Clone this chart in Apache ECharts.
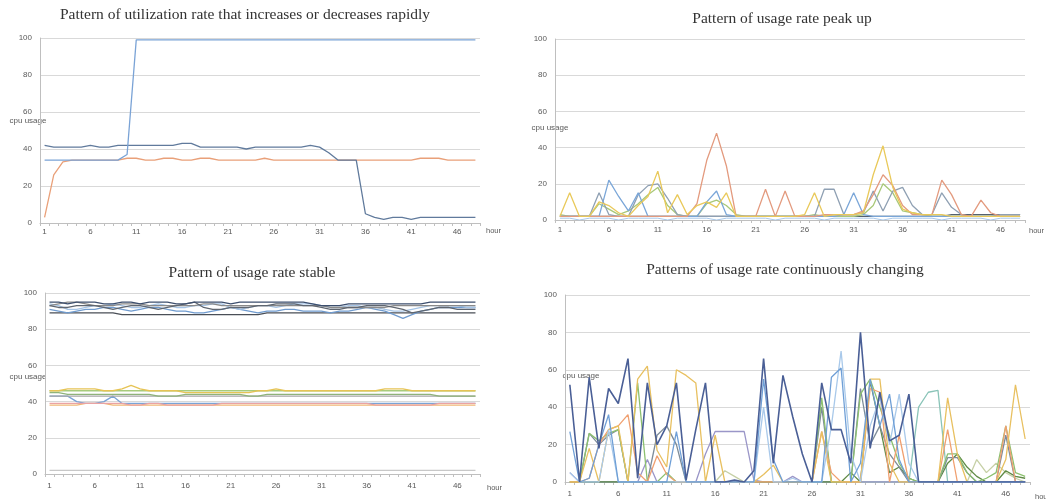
<!DOCTYPE html>
<html>
<head>
<meta charset="utf-8">
<script src="https://cdn.jsdelivr.net/npm/echarts@6/dist/echarts.min.js"></script>
<style>
  html, body { margin: 0; padding: 0; background: #fff; }
  #main { width: 1046px; height: 499px; }
</style>
</head>
<body>
<div id="main"></div>
<script>
// hours on the x axis
var hours = ['1','2','3','4','5','6','7','8','9','10','11','12','13','14','15','16','17','18','19','20',
  '21','22','23','24','25','26','27','28','29','30','31','32','33','34','35','36','37','38','39','40',
  '41','42','43','44','45','46','47','48'];
var yTicks = [0, 20, 40, 60, 80, 100];

// top left: increases or decreases rapidly
var tlBlue = [34,34,34,34,34,34,34,34,34,37, 99,99,99,99,99,99,99,99,99,99, 99,99,99,99,99,99,99,99,99,99, 99,99,99,99,99,99,99,99,99,99, 99,99,99,99,99,99,99,99];
var tlOrange = [3,26,33,34,34,34,34,34,34,35, 35,34,34,35,35,34,34,35,35,34, 34,34,34,34,35,34,34,34,34,34, 34,34,34,34,34,34,34,34,34,34, 34,35,35,35,34,34,34,34];
var tlSlate = [42,41,41,41,41,42,41,41,42,42, 42,42,42,42,42,43,43,41,41,41, 41,41,40,41,41,41,41,41,41,42, 41,38,34,34,34,5,3,2,3,3, 2,3,3,3,3,3,3,3];

// top right: peak up
var trGold = [2,15,2,2,10,8,4,2,8,13, 27,4,14,3,8,10,7,15,2,2, 2,2,2,2,2,3,15,2,3,3, 3,4,25,41,18,6,4,3,3,3, 2,2,2,2,2,2,2,2];
var trSalmon = [2,2,2,2,2,2,2,2,2,2, 2,2,2,2,9,33,48,30,2,2, 2,17,2,16,2,2,2,3,3,3, 3,5,14,25,19,8,3,3,3,22, 14,3,2,11,4,2,2,2];
var trBlue = [2,2,2,2,2,22,13,5,15,2, 2,2,2,2,2,10,16,3,2,2, 2,2,2,2,2,2,2,2,2,3, 15,3,2,2,2,2,2,2,2,2, 2,2,2,2,2,2,2,2];
var trSlate = [2,2,2,2,15,3,2,2,14,19, 20,12,3,2,2,2,2,2,2,2, 2,2,2,2,2,2,2,17,17,3, 3,4,16,5,16,18,8,3,3,15, 7,3,2,2,2,3,3,3];
var trGreen = [3,2,2,2,9,6,3,5,9,14, 18,8,3,2,2,9,11,8,3,2, 2,2,2,2,2,2,3,2,2,2, 2,3,8,20,15,5,4,3,2,2, 2,2,2,2,2,2,2,2];
var trDark = [2,2,2,2,2,2,2,2,2,2, 2,2,2,2,2,2,2,2,2,2, 2,2,2,2,2,2,2,2,2,2, 2,2,2,2,2,2,2,2,2,2, 3,3,3,3,3,3,3,3];
var trLight = [1,1,0,1,1,1,0,1,1,1, 1,0,1,1,1,1,0,1,1,1, 1,1,0,1,1,1,1,0,1,1, 1,1,1,0,1,1,1,1,1,0, 1,1,1,1,0,1,1,1];

// bottom left: stable
var blNavy = [95,95,94,95,95,95,94,94,95,95, 94,95,95,95,94,94,95,95,95,95, 94,95,95,95,95,95,95,95,95,94, 93,93,93,94,94,94,94,94,94,94, 94,94,95,95,95,95,95,95];
var blDarkGray = [93,92,92,93,93,93,92,91,92,93, 93,92,91,92,93,94,95,92,91,91, 92,92,92,93,93,94,94,94,93,93, 92,91,91,92,92,93,93,93,92,91, 89,90,91,92,92,91,91,91];
var blSteel = [91,90,89,90,91,91,92,92,91,90, 91,92,92,91,90,90,89,89,90,91, 92,91,90,89,90,90,91,91,90,90, 90,89,90,90,91,92,91,90,88,86, 88,90,91,92,92,92,92,92];
var blSky = [94,93,91,91,92,93,93,94,93,92, 92,93,94,93,92,92,93,93,94,94, 92,91,92,93,93,92,93,94,94,94, 93,92,92,93,93,92,92,91,90,90, 91,92,93,93,93,93,92,92];
var blBlack = [89,89,89,89,89,89,89,89,88,88, 88,88,88,88,88,88,88,88,88,88, 88,88,88,88,89,89,89,89,89,89, 89,89,89,89,89,89,89,89,89,89, 89,89,89,89,89,89,89,89];
var blGray = [93,94,95,95,94,93,93,93,94,94, 94,93,93,93,93,93,93,94,94,93, 93,93,93,93,93,93,93,93,93,93, 93,92,92,92,92,92,92,92,93,93, 93,93,93,93,93,93,93,93];
var blGold = [46,46,47,47,47,47,46,46,47,49, 47,46,46,46,46,45,45,45,45,45, 45,45,45,46,46,47,46,46,46,46, 46,46,46,46,46,46,46,47,47,47, 46,46,46,46,46,46,46,46];
var blGreen = [46,46,46,46,46,46,46,46,46,46, 46,46,46,46,46,46,46,46,46,46, 46,46,46,46,46,46,46,46,46,46, 46,46,46,46,46,46,46,46,46,46, 46,46,46,46,46,46,46,46];
var blOlive = [45,45,44,44,44,44,44,44,44,44, 44,44,43,43,43,44,44,44,44,44, 44,44,43,43,44,44,44,44,44,44, 44,44,44,44,44,44,44,44,44,44, 44,44,44,43,43,43,43,43];
var blGray2 = [43,43,43,43,43,43,43,43,43,43, 43,43,43,43,43,43,43,43,43,43, 43,43,43,43,43,43,43,43,43,43, 43,43,43,43,43,43,43,43,43,43, 43,43,43,43,43,43,43,43];
var blBlue = [43,43,43,40,39,39,40,43,39,39, 39,39,39,39,39,39,39,39,39,39, 39,39,39,39,39,39,39,39,39,39, 39,39,39,39,39,39,39,39,39,39, 39,39,39,39,39,39,39,39];
var blPink = [39,39,39,39,39,39,39,39,39,38, 38,39,39,38,38,38,38,38,38,39, 39,39,39,39,39,39,39,39,39,39, 39,39,39,39,39,39,38,38,38,38, 38,38,38,39,39,39,39,39];
var blOrange = [38,38,38,38,39,39,39,38,38,38, 38,38,38,38,38,38,38,38,38,38, 38,38,38,38,38,38,38,38,38,38, 38,38,38,38,38,38,38,38,38,38, 38,38,38,38,38,38,38,38];
var blLow = [2,2,2,2,2,2,2,2,2,2, 2,2,2,2,2,2,2,2,2,2, 2,2,2,2,2,2,2,2,2,2, 2,2,2,2,2,2,2,2,2,2, 2,2,2,2,2,2,2,2];

// bottom right: continuously changing
var brNavy = [52,0,56,18,50,42,66,2,53,20, 30,53,1,28,53,0,0,1,0,6, 66,10,57,35,15,0,53,28,28,10, 80,18,48,22,25,47,0,0,0,0, 0,0,0,0,0,0,0,0];
var brBlue = [27,0,2,20,36,0,0,0,0,0, 0,27,0,0,0,0,0,0,0,0, 55,12,0,0,0,0,0,56,61,0, 10,55,30,47,12,0,0,0,0,0, 0,0,0,0,0,0,0,0];
var brSky = [5,0,0,0,28,0,0,0,0,0, 0,0,0,0,0,0,0,0,0,0, 40,0,0,2,0,0,0,30,70,15, 0,30,45,20,47,10,0,0,0,0, 0,0,0,0,0,0,0,0];
var brGold = [0,0,18,0,28,30,0,55,62,17, 8,60,57,53,0,25,0,0,0,0, 4,9,0,0,0,0,27,0,0,0, 0,55,55,10,0,0,0,0,0,45, 15,0,0,0,0,12,52,23];
var brOrange = [0,0,2,20,28,30,36,5,0,14, 4,0,0,0,0,0,0,0,0,0, 0,0,0,0,0,0,27,5,0,0, 0,50,48,0,25,0,0,0,0,28, 0,0,0,0,0,30,0,0];
var brGreen = [0,0,26,22,26,28,0,53,0,0, 5,0,0,0,0,0,0,0,0,0, 0,0,0,0,0,0,45,0,0,0, 47,55,40,25,10,2,0,0,0,15, 15,5,0,2,5,30,5,3];
var brOlive = [0,0,0,0,0,0,0,0,0,0, 0,0,0,0,0,0,0,0,0,0, 0,0,0,0,0,0,0,0,0,5, 0,54,30,5,8,2,0,0,0,10, 15,8,3,0,0,6,3,2];
var brPurple = [5,0,0,0,0,0,0,0,12,0, 0,0,0,0,15,27,27,27,27,1, 0,0,0,3,0,0,0,0,0,0, 0,0,0,0,0,0,0,0,0,0, 0,0,0,0,0,0,0,0];
var brLight = [0,0,0,0,0,0,0,0,0,0, 0,0,0,0,0,0,6,3,0,0, 0,0,0,0,0,0,0,0,0,0, 0,0,0,0,0,0,0,0,0,0, 0,0,12,5,10,5,2,0];
var brTeal = [0,0,0,0,0,0,0,0,0,0, 0,0,0,0,0,0,0,0,0,0, 0,0,0,0,0,0,0,0,0,0, 0,0,0,0,0,0,40,48,49,0, 0,0,0,0,0,0,0,0];
var brSlate = [0,0,26,20,25,28,0,0,0,25, 30,20,0,0,0,0,0,0,0,0, 0,0,0,0,0,0,40,0,0,0, 50,20,30,15,8,0,0,0,0,13, 13,5,0,0,0,25,0,0];

var titles = [
  'Pattern of utilization rate that increases or decreases rapidly',
  'Pattern of usage rate peak up',
  'Pattern of usage rate stable',
  'Patterns of usage rate continuously changing'
];

var grids = [
  { left: 40, top: 38, width: 440, height: 185 },
  { left: 555, top: 39, width: 470, height: 181 },
  { left: 45, top: 293, width: 435, height: 181 },
  { left: 565, top: 295, width: 465, height: 187 }
];

var axisGray = '#bfbfbf';
var labelGray = '#595959';

function xAxisFor(i, margin) {
  return {
    type: 'category', gridIndex: i, data: hours, boundaryGap: true,
    axisLine: { lineStyle: { color: axisGray } },
    axisTick: { show: true, interval: 0, length: 3, lineStyle: { color: axisGray } },
    axisLabel: { interval: 4, fontSize: 8, color: labelGray, margin: margin, fontFamily: 'Liberation Sans' }
  };
}

function yAxisFor(i) {
  return {
    type: 'value', gridIndex: i, min: yTicks[0], max: yTicks[yTicks.length - 1], interval: 20,
    axisLine: { show: true, lineStyle: { color: axisGray } },
    axisTick: { show: false },
    axisLabel: { fontSize: 8, color: labelGray, margin: 8, fontFamily: 'Liberation Sans' },
    splitLine: { lineStyle: { color: '#d9d9d9' } }
  };
}

function line(i, data, color, width) {
  return {
    type: 'line', xAxisIndex: i, yAxisIndex: i, data: data,
    showSymbol: false, silent: true,
    lineStyle: { color: color, width: width || 1.3 },
    itemStyle: { color: color }
  };
}

function txt(x, y, text, size, family, align) {
  return {
    type: 'text', x: x, y: y,
    style: { text: text, fontSize: size, fontFamily: family, fill: family === 'Liberation Serif' ? '#333' : labelGray,
      textAlign: align || 'center', textVerticalAlign: 'middle' }
  };
}

var chart = echarts.init(document.getElementById('main'), null, { renderer: 'canvas' });

var option = {
  animation: false,
  backgroundColor: '#fff',
  grid: grids,
  xAxis: [xAxisFor(0, 5), xAxisFor(1, 6), xAxisFor(2, 8), xAxisFor(3, 8)],
  yAxis: [yAxisFor(0), yAxisFor(1), yAxisFor(2), yAxisFor(3)],
  graphic: [
    txt(245, 15, titles[0], 15.5, 'Liberation Serif'),
    txt(782, 19, titles[1], 15.5, 'Liberation Serif'),
    txt(252, 273, titles[2], 15.5, 'Liberation Serif'),
    txt(785, 270, titles[3], 15.5, 'Liberation Serif'),
    txt(28, 121, 'cpu usage', 8, 'Liberation Sans'),
    txt(550, 128, 'cpu usage', 8, 'Liberation Sans'),
    txt(28, 377, 'cpu usage', 8, 'Liberation Sans'),
    txt(581, 376, 'cpu usage', 8, 'Liberation Sans'),
    txt(486, 231, 'hour', 7.5, 'Liberation Sans', 'left'),
    txt(1029, 231, 'hour', 7.5, 'Liberation Sans', 'left'),
    txt(487, 488, 'hour', 7.5, 'Liberation Sans', 'left'),
    txt(1035, 497, 'hour', 7.5, 'Liberation Sans', 'left')
  ],
  series: [
    line(0, tlOrange, '#e9a079'),
    line(0, tlSlate, '#607a9c'),
    line(0, tlBlue, '#7aa3d6'),

    line(1, trLight, '#a9c8ea', 1),
    line(1, trDark, '#55606e'),
    line(1, trGreen, '#a8c878'),
    line(1, trSlate, '#8fa0b3'),
    line(1, trBlue, '#7aa6d8'),
    line(1, trSalmon, '#e39a7e'),
    line(1, trGold, '#e9c95a'),

    line(2, blLow, '#c8c8c8'),
    line(2, blOrange, '#f0b676'),
    line(2, blBlue, '#7aa3d6'),
    line(2, blPink, '#eaa3a3'),
    line(2, blGray2, '#a6a6a6'),
    line(2, blOlive, '#8fb37a'),
    line(2, blGreen, '#a8cc7c'),
    line(2, blGold, '#e6c456'),
    line(2, blBlack, '#4a4f57'),
    line(2, blSteel, '#6f9bcf'),
    line(2, blSky, '#a5c4e6'),
    line(2, blGray, '#8a8a8a'),
    line(2, blDarkGray, '#5f6670'),
    line(2, blNavy, '#3d4f6e'),

    line(3, brLight, '#c6d0a6'),
    line(3, brTeal, '#8ac4b8'),
    line(3, brPurple, '#9a96c8'),
    line(3, brOlive, '#5f8a45'),
    line(3, brSlate, '#7d8c99'),
    line(3, brGreen, '#8cc070'),
    line(3, brOrange, '#f0a070'),
    line(3, brGold, '#e8c060'),
    line(3, brSky, '#a9c9ea'),
    line(3, brBlue, '#6f9fd6'),
    line(3, brNavy, '#4a5f96', 1.6)
  ]
};

chart.setOption(option);
window.addEventListener('resize', chart.resize);
</script>
</body>
</html>
